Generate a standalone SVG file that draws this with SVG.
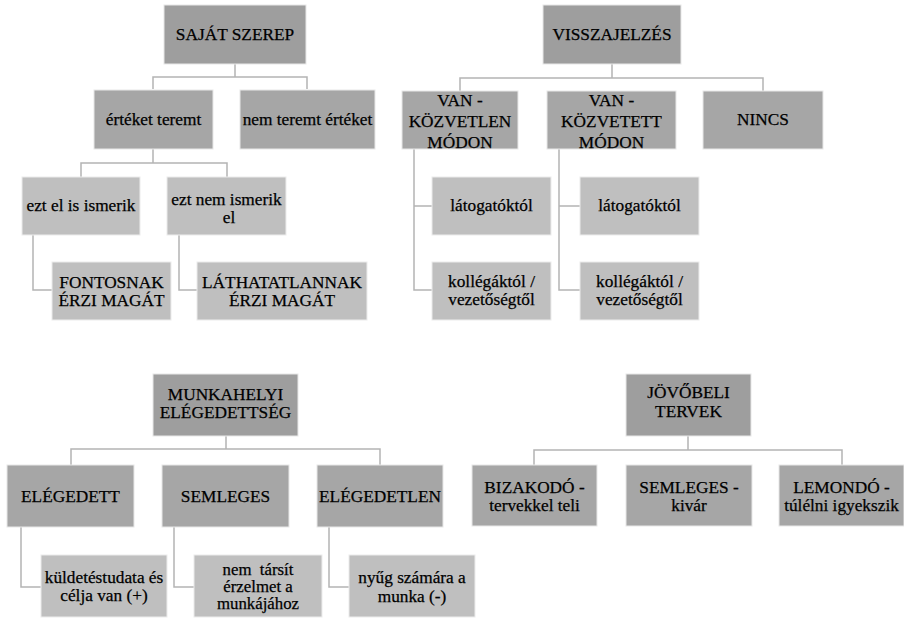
<svg xmlns="http://www.w3.org/2000/svg" width="904" height="618" viewBox="0 0 904 618" font-family="'Liberation Serif', 'Times New Roman', serif">
<style>
.l1{fill:#9e9e9e;stroke:#e8e8e8;stroke-width:1}
.l2{fill:#a6a6a6;stroke:#e8e8e8;stroke-width:1}
.l3{fill:#bfbfbf;stroke:#ececec;stroke-width:1}
text{font-family:"Liberation Serif","Times New Roman",serif;font-size:17.3px;fill:#000;stroke:#000;stroke-width:0.25;text-anchor:middle}
.sm{font-size:16.8px}
.conn{fill:none;stroke:#b4b4b4;stroke-width:1.5}
</style>
<rect width="904" height="618" fill="#fff"/>
<g id="connectors" class="conn">
<path d="M235,64V77M153,89V77H307V89"/>
<path d="M153,149V163M81,177V163H227V177"/>
<path d="M33,235V290H52"/>
<path d="M179,235V290H197"/>
<path d="M612,64V78M460,91V78H763V91"/>
<path d="M414,149V290H432M414,206H432"/>
<path d="M559,149V290H580M559,206H580"/>
<path d="M226,436V449M71,465V449H380V465"/>
<path d="M21,527V587H41"/>
<path d="M174,527V587H194"/>
<path d="M329,527V587H349"/>
<path d="M688,436V450M534,465V450H842V465"/>
</g>
<g id="n-sajat"><rect class="l1" x="164" y="5" width="142" height="59"/><text x="235" y="40">SAJÁT SZEREP</text></g>
<g id="n-ertek"><rect class="l2" x="94" y="90" width="119" height="59"/><text x="153.5" y="125">értéket teremt</text></g>
<g id="n-nemertek"><rect class="l2" x="240" y="90" width="135" height="59"/><text x="307.5" y="125">nem teremt értéket</text></g>
<g id="n-ezt"><rect class="l3" x="22" y="177" width="118" height="58"/><text x="81" y="211">ezt el is ismerik</text></g>
<g id="n-eztnem"><rect class="l3" x="167" y="177" width="119" height="58"/><text x="226.5" y="205">ezt nem ismerik</text><text x="229" y="223">el</text></g>
<g id="n-fontos"><rect class="l3" x="52" y="262" width="119" height="58"/><text x="111.5" y="288">FONTOSNAK</text><text x="111.5" y="306">ÉRZI MAGÁT</text></g>
<g id="n-lathat"><rect class="l3" x="197" y="262" width="170" height="58"/><text x="282" y="288">LÁTHATATLANNAK</text><text x="282" y="306">ÉRZI MAGÁT</text></g>
<g id="n-vissza"><rect class="l1" x="543" y="5" width="138" height="59"/><text x="612" y="40">VISSZAJELZÉS</text></g>
<g id="n-kozvetlen"><rect class="l2" x="402" y="91" width="116" height="58"/><text x="460" y="106">VAN -</text><text x="460" y="127">KÖZVETLEN</text><text x="460" y="147.5">MÓDON</text></g>
<g id="n-kozvetett"><rect class="l2" x="547" y="91" width="129" height="58"/><text x="611.5" y="106">VAN -</text><text x="611.5" y="127">KÖZVETETT</text><text x="611.5" y="147.5">MÓDON</text></g>
<g id="n-nincs"><rect class="l2" x="703" y="91" width="120" height="58"/><text x="763" y="125">NINCS</text></g>
<g id="n-lat1"><rect class="l3" x="432" y="177" width="119" height="58"/><text x="491.5" y="211">látogatóktól</text></g>
<g id="n-kol1"><rect class="l3" x="432" y="262" width="119" height="58"/><text x="491.5" y="287">kollégáktól /</text><text x="491.5" y="305">vezetőségtől</text></g>
<g id="n-lat2"><rect class="l3" x="580" y="177" width="119" height="58"/><text x="639.5" y="211">látogatóktól</text></g>
<g id="n-kol2"><rect class="l3" x="580" y="262" width="119" height="58"/><text x="639.5" y="287">kollégáktól /</text><text x="639.5" y="305">vezetőségtől</text></g>
<g id="n-munka"><rect class="l1" x="153" y="374" width="145" height="62"/><text x="225.5" y="400">MUNKAHELYI</text><text x="225.5" y="418">ELÉGEDETTSÉG</text></g>
<g id="n-eleg"><rect class="l2" x="7" y="465" width="127" height="62"/><text x="70.5" y="502">ELÉGEDETT</text></g>
<g id="n-semleg1"><rect class="l2" x="162" y="465" width="127" height="62"/><text x="225.5" y="502">SEMLEGES</text></g>
<g id="n-elegtelen"><rect class="l2" x="317" y="465" width="126" height="62"/><text x="380" y="502">ELÉGEDETLEN</text></g>
<g id="n-kuldetes"><rect class="l3" x="41" y="555" width="126" height="62"/><text x="104" y="583">küldetéstudata és</text><text x="104" y="601">célja van (+)</text></g>
<g id="n-nemtarsit"><rect class="l3" x="194" y="555" width="128" height="62"/><text class="sm" x="258" y="575" xml:space="preserve">nem  társít</text><text class="sm" x="258" y="592">érzelmet a</text><text class="sm" x="258" y="609">munkájához</text></g>
<g id="n-nyug"><rect class="l3" x="349" y="555" width="126" height="62"/><text x="412" y="583">nyűg számára a</text><text x="412" y="602">munka (-)</text></g>
<g id="n-jovo"><rect class="l1" x="626" y="374" width="125" height="62"/><text x="688.5" y="398">JÖVŐBELI</text><text x="688.5" y="417">TERVEK</text></g>
<g id="n-bizak"><rect class="l2" x="472" y="465" width="125" height="61"/><text x="534.5" y="493">BIZAKODÓ -</text><text x="534.5" y="511">tervekkel teli</text></g>
<g id="n-semleg2"><rect class="l2" x="626" y="465" width="126" height="61"/><text x="689" y="493">SEMLEGES -</text><text x="689" y="511">kivár</text></g>
<g id="n-lemondo"><rect class="l2" x="779" y="465" width="125" height="61"/><text x="841.5" y="493">LEMONDÓ -</text><text x="841.5" y="511">túlélni igyekszik</text></g>
</svg>
